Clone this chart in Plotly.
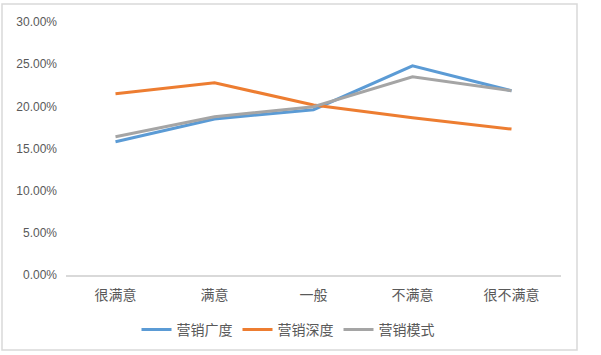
import plotly.graph_objects as go

categories = ["很满意", "满意", "一般", "不满意", "很不满意"]
breadth = [0.158, 0.185, 0.196, 0.248, 0.2185]
depth = [0.215, 0.228, 0.2015, 0.1865, 0.173]
mode_ = [0.164, 0.1877, 0.1996, 0.235, 0.2185]
series_names = ["营销广度", "营销深度", "营销模式"]
colors = ["#5B9BD5", "#ED7D31", "#A5A5A5"]

fig = go.Figure()
for name, vals, c in zip(series_names, [breadth, depth, mode_], colors):
    fig.add_trace(go.Scatter(x=categories, y=vals, mode="lines", name=name,
                             line=dict(color=c, width=3)))

W, H = 601, 355
L, R, T, B = 66, 40, 22, 80
pw, ph = W - L - R, H - T - B

def px_x(x):
    return (x - L) / pw

def px_y(y):
    return (H - B - y) / ph

fig.add_shape(type="rect", xref="paper", yref="paper",
              x0=px_x(2), x1=px_x(577), y0=px_y(350), y1=px_y(4),
              line=dict(color="#d9d9d9", width=1.5), fillcolor="rgba(0,0,0,0)")

fig.update_layout(
    width=W, height=H,
    margin=dict(l=L, r=R, t=T, b=B, autoexpand=False),
    paper_bgcolor="white", plot_bgcolor="white",
    font=dict(family="Noto Sans CJK SC, Noto Sans, sans-serif", color="#595959"),
    showlegend=True,
    legend=dict(orientation="h", x=px_x(288), xanchor="center",
                y=px_y(330), yanchor="middle",
                font=dict(size=14, color="#595959"),
                itemwidth=30, tracegroupgap=0),
)
fig.update_xaxes(type="category", range=[-0.5, 4.5], showgrid=False, showline=True,
                 linecolor="#d9d9d9", linewidth=1.5,
                 ticks="", tickfont=dict(size=14, color="#595959"),
                 ticklabelstandoff=6, zeroline=False, automargin=False)
fig.update_yaxes(range=[0, 0.30], dtick=0.05, tickformat=".2%", showgrid=False,
                 showline=False, zeroline=False, ticks="",
                 tickfont=dict(family="Liberation Sans, Arial, sans-serif", size=12, color="#595959"),
                 ticklabelstandoff=8, automargin=False)

fig.write_html("out.html", config={"displayModeBar": False},
               post_script="document.body.style.margin='0';document.body.style.overflow='hidden';")
